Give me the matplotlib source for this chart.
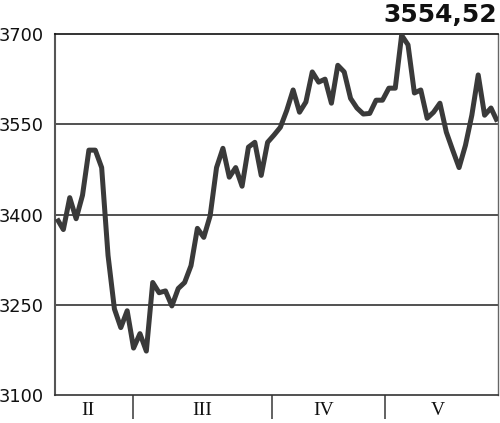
import matplotlib.pyplot as plt
from matplotlib.ticker import FixedLocator, NullFormatter

# index closing values, one per trading day
values = [3393, 3375, 3428, 3393, 3432, 3507, 3507, 3478, 3332, 3243,
          3212, 3240, 3178, 3202, 3173, 3287, 3270, 3273, 3248, 3277,
          3287, 3315, 3377, 3362, 3398, 3478, 3510, 3462, 3478, 3447,
          3512, 3520, 3465, 3520, 3532, 3545, 3573, 3607, 3570, 3587,
          3637, 3620, 3625, 3585, 3648, 3637, 3593, 3577, 3567, 3568,
          3590, 3590, 3610, 3610, 3698, 3682, 3602, 3607, 3560, 3570,
          3585, 3537, 3507, 3478, 3515, 3565, 3632, 3565, 3577, 3554.52]
days = list(range(len(values)))

month_labels = ['II', 'III', 'IV', 'V']
month_label_pos = [4.9, 22.7, 41.8, 59.6]
month_bounds = [11.9, 33.7, 51.4]
y_ticks = [3100, 3250, 3400, 3550, 3700]
last_value = '3554,52'

fig = plt.figure(figsize=(5, 4.23), dpi=100)
ax = fig.add_axes([0.11, 0.0662, 0.886, 0.8534])

for y in y_ticks[1:-1]:
    ax.axhline(y, color='#222222', linewidth=1.1, zorder=1)

ax.plot(days, values, color='#3a3a3a', linewidth=3.6,
        solid_joinstyle='round', solid_capstyle='butt', zorder=3)

ax.set_xlim(-0.31, 69.1)
ax.set_ylim(3100, 3700)

ax.set_yticks(y_ticks)
ax.set_yticklabels([str(t) for t in y_ticks], fontsize=12.8, color='#111111')
ax.tick_params(axis='y', length=0, pad=8)

ax.xaxis.set_major_locator(FixedLocator(month_label_pos))
ax.set_xticklabels(month_labels, fontsize=14, family='Liberation Serif',
                   color='#111111')
ax.tick_params(axis='x', which='major', length=0, pad=5)
ax.xaxis.set_minor_locator(FixedLocator(month_bounds))
ax.xaxis.set_minor_formatter(NullFormatter())
ax.tick_params(axis='x', which='minor', length=17, width=1.3,
               color='#555555', direction='out')

ax.spines['left'].set_color('#555555')
ax.spines['left'].set_linewidth(1.5)
ax.spines['bottom'].set_color('#333333')
ax.spines['bottom'].set_linewidth(1.2)
ax.spines['top'].set_color('#111111')
ax.spines['top'].set_linewidth(1.2)
ax.spines['right'].set_color('#666666')
ax.spines['right'].set_linewidth(1.0)

fig.text(0.994, 0.936, last_value, ha='right', va='bottom',
         fontsize=18, fontweight='bold', color='#111111')

fig.savefig('out.png', dpi=100)
